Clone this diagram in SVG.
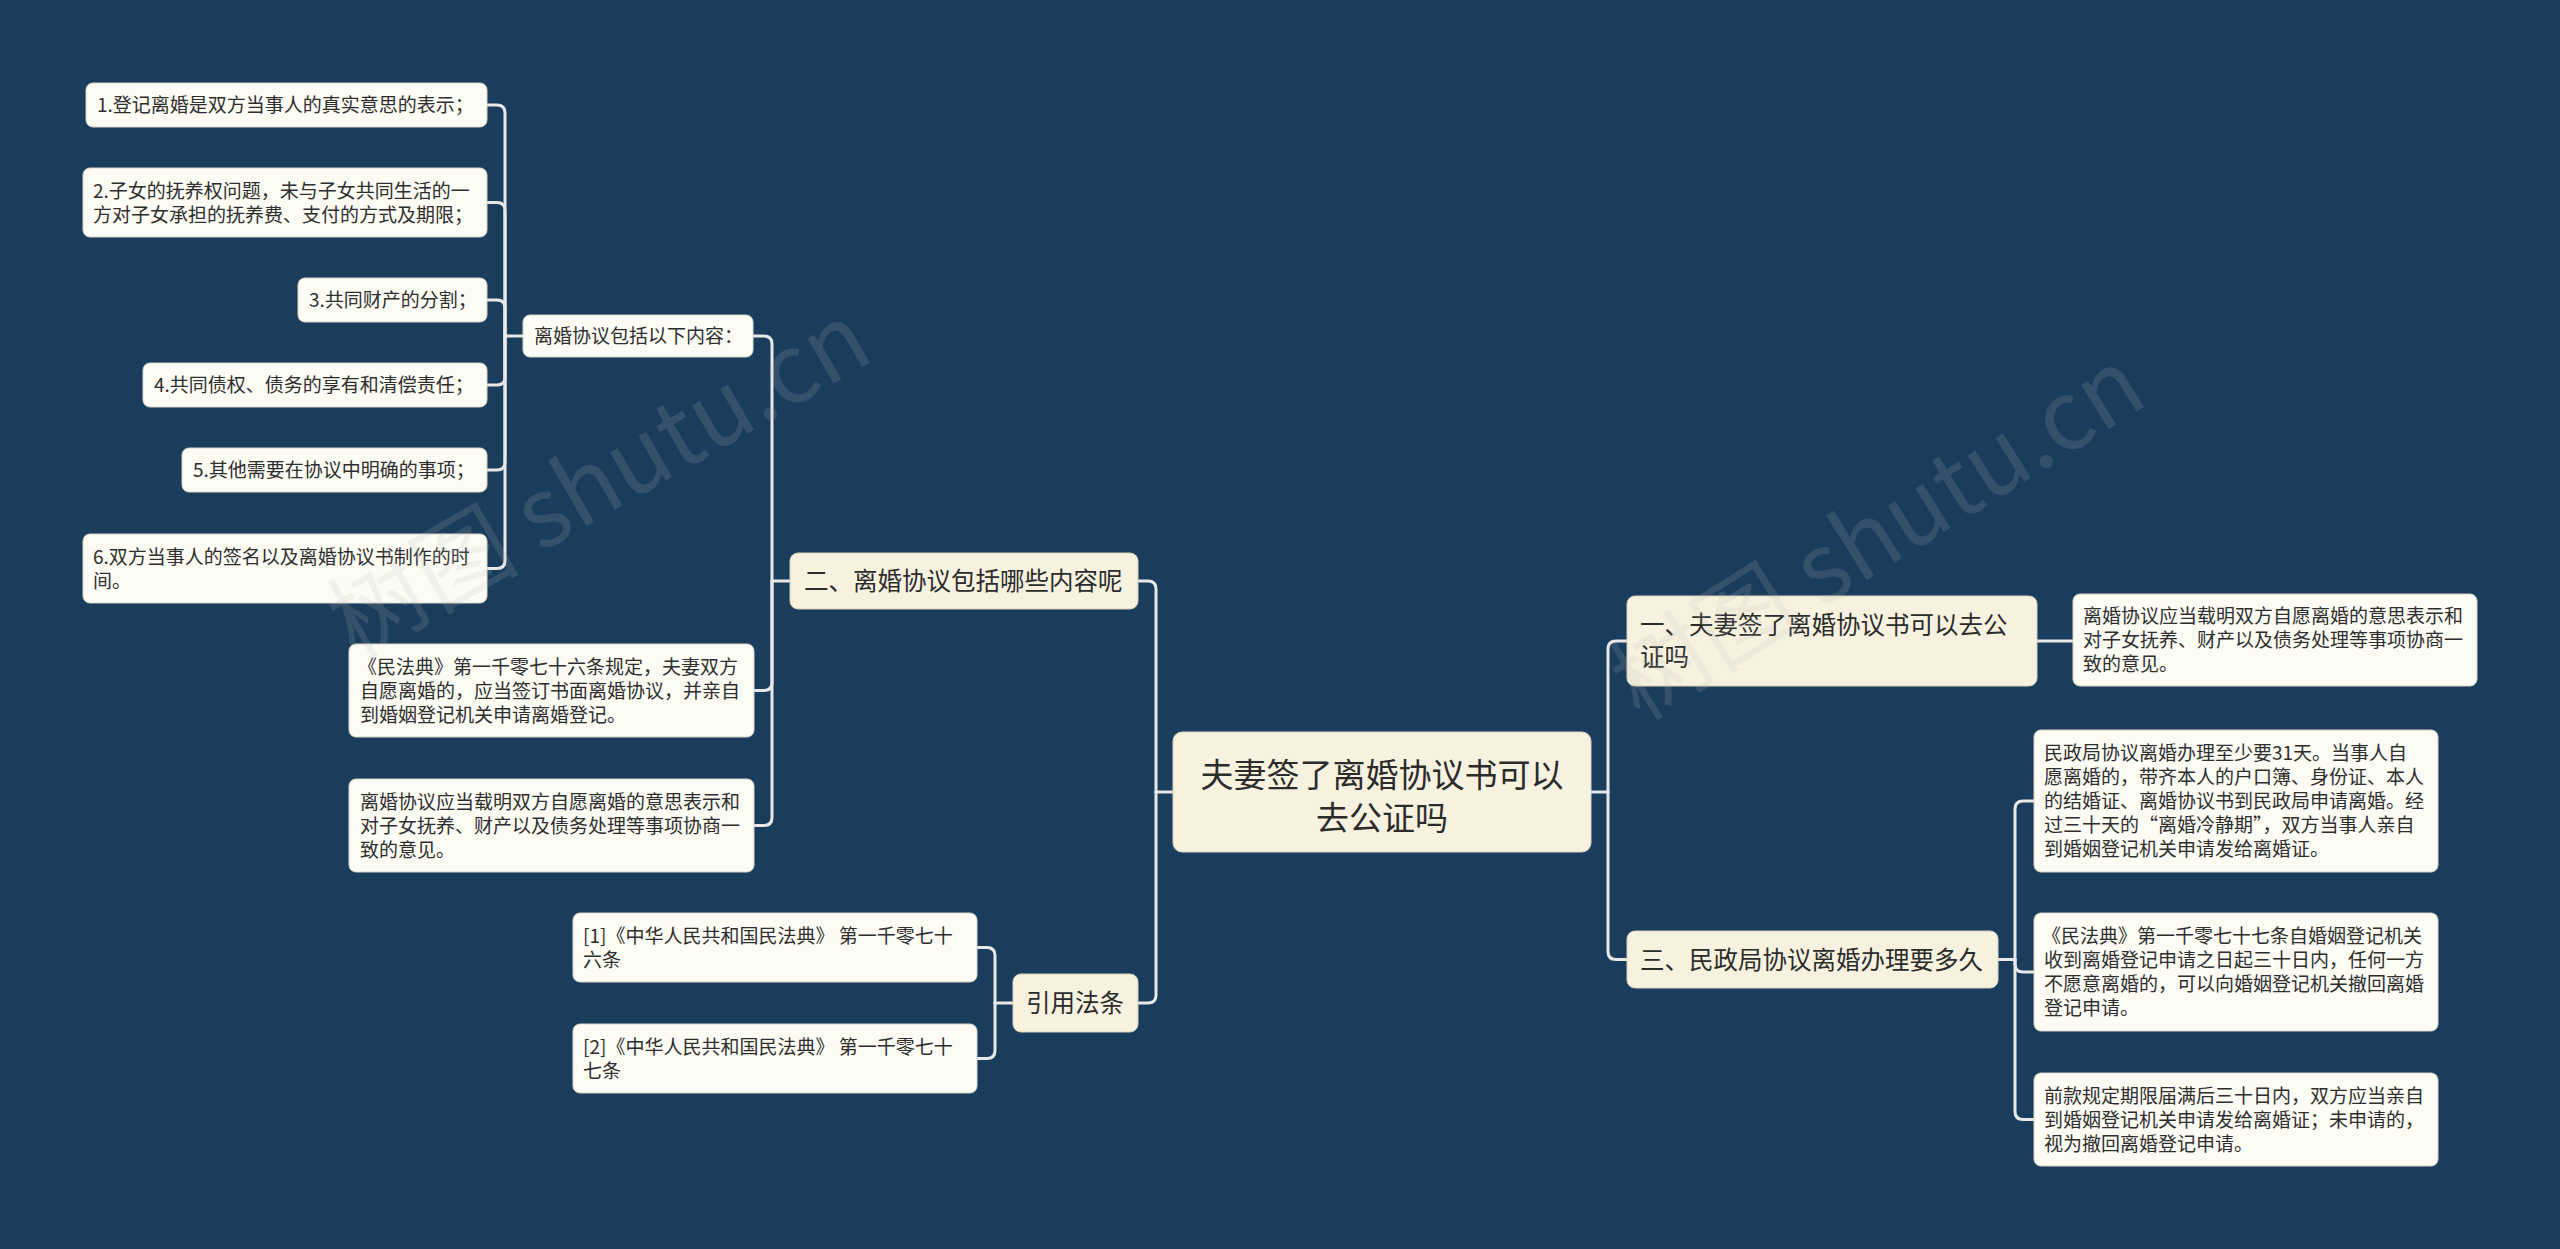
<svg xmlns="http://www.w3.org/2000/svg" width="2560" height="1249" viewBox="0 0 2560 1249">
<defs>
<style>
.bg{fill:#1b3d5d}
.leaf{fill:#fcfbf4;stroke:#d9d6c8;stroke-width:1}
.main{fill:#f7f2df;stroke:#d8d2b8;stroke-width:1}
.t{font-family:"Noto Sans CJK SC","Noto Sans",sans-serif;font-size:19px;fill:#2e2e2e}
.m{font-family:"Noto Sans CJK SC","Noto Sans",sans-serif;font-size:24.5px;fill:#2b2b2b}
.c{font-family:"Noto Sans CJK SC","Noto Sans",sans-serif;font-size:33px;fill:#2b2b2b;text-anchor:middle}
.ln{fill:none;stroke:#e8e8e8;stroke-width:3;stroke-linecap:round}
.wm{font-family:"Noto Sans CJK SC","Noto Sans",sans-serif;font-size:96px;fill:#b8b8b8;fill-opacity:0.16}
</style>
</defs>
<rect class="bg" x="0" y="0" width="2560" height="1249"/>

<g id="connectors">
<path class="ln" d="M523,336 H505"/>
<path class="ln" d="M505,336 V113 Q505,105 497,105 H487"/>
<path class="ln" d="M505,336 V210.5 Q505,202.5 497,202.5 H487"/>
<path class="ln" d="M505,336 V308 Q505,300 497,300 H487"/>
<path class="ln" d="M505,336 V377 Q505,385 497,385 H487"/>
<path class="ln" d="M505,336 V462 Q505,470 497,470 H487"/>
<path class="ln" d="M505,336 V560.5 Q505,568.5 497,568.5 H487"/>

<path class="ln" d="M790,581 H772"/>
<path class="ln" d="M772,581 V344 Q772,336 764,336 H753"/>
<path class="ln" d="M772,581 V682.5 Q772,690.5 764,690.5 H754"/>
<path class="ln" d="M772,581 V817.5 Q772,825.5 764,825.5 H754"/>

<path class="ln" d="M1013,1003 H995"/>
<path class="ln" d="M995,1003 V955.5 Q995,947.5 987,947.5 H977"/>
<path class="ln" d="M995,1003 V1050.5 Q995,1058.5 987,1058.5 H977"/>

<path class="ln" d="M1173,792 H1156"/>
<path class="ln" d="M1156,792 V589 Q1156,581 1148,581 H1138"/>
<path class="ln" d="M1156,792 V995 Q1156,1003 1148,1003 H1138"/>

<path class="ln" d="M1591,792 H1608"/>
<path class="ln" d="M1608,792 V649 Q1608,641 1616,641 H1627"/>
<path class="ln" d="M1608,792 V951.5 Q1608,959.5 1616,959.5 H1627"/>

<path class="ln" d="M2037,641 H2073"/>

<path class="ln" d="M1998,959.5 H2015"/>
<path class="ln" d="M2015,959.5 V809 Q2015,801 2023,801 H2034"/>
<path class="ln" d="M2015,959.5 V964 Q2015,972 2023,972 H2034"/>
<path class="ln" d="M2015,959.5 V1111.5 Q2015,1119.5 2023,1119.5 H2034"/>
</g>

<g id="center">
<rect class="main" x="1173" y="732" width="418" height="120" rx="9"/>
<text class="c" x="1382" y="787">夫妻签了离婚协议书可以</text>
<text class="c" x="1382" y="830">去公证吗</text>
</g>

<g id="n2">
<rect class="main" x="790" y="553" width="348" height="56" rx="8"/>
<text class="m" x="804" y="590">二、离婚协议包括哪些内容呢</text>
</g>

<g id="n-cite">
<rect class="main" x="1013" y="974" width="125" height="58" rx="8"/>
<text class="m" x="1026" y="1012">引用法条</text>
</g>

<g id="n1">
<rect class="main" x="1627" y="596" width="410" height="90" rx="8"/>
<text class="m" x="1640" y="634">一、夫妻签了离婚协议书可以去公</text>
<text class="m" x="1640" y="666">证吗</text>
</g>

<g id="n3">
<rect class="main" x="1627" y="931" width="371" height="57" rx="8"/>
<text class="m" x="1640" y="968.5">三、民政局协议离婚办理要多久</text>
</g>

<g id="p1">
<rect class="leaf" x="523" y="315" width="230" height="42" rx="7"/>
<text class="t" x="534" y="343">离婚协议包括以下内容：</text>
</g>

<g id="a1">
<rect class="leaf" x="86" y="83" width="401" height="44" rx="7"/>
<text class="t" x="97" y="112">1.登记离婚是双方当事人的真实意思的表示；</text>
</g>
<g id="a2">
<rect class="leaf" x="83" y="168" width="404" height="69" rx="7"/>
<text class="t" x="93" y="197.5">2.子女的抚养权问题，未与子女共同生活的一</text>
<text class="t" x="93" y="221.5">方对子女承担的抚养费、支付的方式及期限；</text>
</g>
<g id="a3">
<rect class="leaf" x="298" y="278" width="189" height="44" rx="7"/>
<text class="t" x="309" y="307">3.共同财产的分割；</text>
</g>
<g id="a4">
<rect class="leaf" x="143" y="363" width="344" height="44" rx="7"/>
<text class="t" x="154" y="392">4.共同债权、债务的享有和清偿责任；</text>
</g>
<g id="a5">
<rect class="leaf" x="182" y="448" width="305" height="44" rx="7"/>
<text class="t" x="193" y="477">5.其他需要在协议中明确的事项；</text>
</g>
<g id="a6">
<rect class="leaf" x="83" y="534" width="404" height="69" rx="7"/>
<text class="t" x="93" y="563.5">6.双方当事人的签名以及离婚协议书制作的时</text>
<text class="t" x="93" y="587.5">间。</text>
</g>

<g id="b1">
<rect class="leaf" x="349" y="644" width="405" height="93" rx="7"/>
<text class="t" x="358" y="673.5">《民法典》第一千零七十六条规定，夫妻双方</text>
<text class="t" x="360" y="697.5">自愿离婚的，应当签订书面离婚协议，并亲自</text>
<text class="t" x="360" y="721.5">到婚姻登记机关申请离婚登记。</text>
</g>
<g id="b2">
<rect class="leaf" x="349" y="779" width="405" height="93" rx="7"/>
<text class="t" x="360" y="808.5">离婚协议应当载明双方自愿离婚的意思表示和</text>
<text class="t" x="360" y="832.5">对子女抚养、财产以及债务处理等事项协商一</text>
<text class="t" x="360" y="856.5">致的意见。</text>
</g>

<g id="c1">
<rect class="leaf" x="573" y="913" width="404" height="69" rx="7"/>
<text class="t" x="583" y="942.5">[1]《中华人民共和国民法典》 第一千零七十</text>
<text class="t" x="583" y="966.5">六条</text>
</g>
<g id="c2">
<rect class="leaf" x="573" y="1024" width="404" height="69" rx="7"/>
<text class="t" x="583" y="1053.5">[2]《中华人民共和国民法典》 第一千零七十</text>
<text class="t" x="583" y="1077.5">七条</text>
</g>

<g id="d1">
<rect class="leaf" x="2073" y="594" width="404" height="92" rx="7"/>
<text class="t" x="2083" y="623">离婚协议应当载明双方自愿离婚的意思表示和</text>
<text class="t" x="2083" y="647">对子女抚养、财产以及债务处理等事项协商一</text>
<text class="t" x="2083" y="671">致的意见。</text>
</g>

<g id="r1">
<rect class="leaf" x="2034" y="730" width="404" height="142" rx="7"/>
<text class="t" x="2044" y="760">民政局协议离婚办理至少要31天。当事人自</text>
<text class="t" x="2044" y="784">愿离婚的，带齐本人的户口簿、身份证、本人</text>
<text class="t" x="2044" y="808">的结婚证、离婚协议书到民政局申请离婚。经</text>
<text class="t" x="2044" y="832">过三十天的“离婚冷静期”，双方当事人亲自</text>
<text class="t" x="2044" y="856">到婚姻登记机关申请发给离婚证。</text>
</g>
<g id="r2">
<rect class="leaf" x="2034" y="913" width="404" height="118" rx="7"/>
<text class="t" x="2042" y="943">《民法典》第一千零七十七条自婚姻登记机关</text>
<text class="t" x="2044" y="967">收到离婚登记申请之日起三十日内，任何一方</text>
<text class="t" x="2044" y="991">不愿意离婚的，可以向婚姻登记机关撤回离婚</text>
<text class="t" x="2044" y="1015">登记申请。</text>
</g>
<g id="r3">
<rect class="leaf" x="2034" y="1073" width="404" height="93" rx="7"/>
<text class="t" x="2044" y="1102.5">前款规定期限届满后三十日内，双方应当亲自</text>
<text class="t" x="2044" y="1126.5">到婚姻登记机关申请发给离婚证；未申请的，</text>
<text class="t" x="2044" y="1150.5">视为撤回离婚登记申请。</text>
</g>

<g id="watermark">
<text class="wm" transform="translate(355,660) rotate(-30)">树图 shutu.cn</text>
<text class="wm" transform="translate(1640,722) rotate(-32)">树图 shutu.cn</text>
</g>
</svg>
